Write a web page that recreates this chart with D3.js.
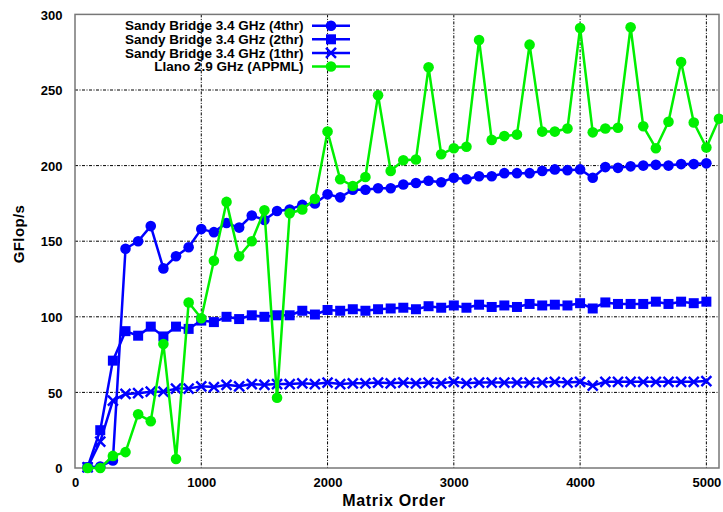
<!DOCTYPE html>
<html>
<head>
<meta charset="utf-8">
<script src="https://cdn.jsdelivr.net/npm/d3@7"></script>
<style>
  html, body { margin: 0; padding: 0; background: #fff; }
  svg { display: block; }
  text { font-family: "Liberation Sans", Arial, sans-serif; font-weight: bold; fill: #000; }
</style>
</head>
<body>
<svg id="chart" width="723" height="512"></svg>
<script>
// ---- data ----
const ordersSB = [100,200,300,400,500,600,700,800,900,1000,
  1100,1200,1300,1400,1500,1600,1700,1800,1900,2000,
  2100,2200,2300,2400,2500,2600,2700,2800,2900,3000,
  3100,3200,3300,3400,3500,3600,3700,3800,3900,4000,
  4100,4200,4300,4400,4500,4600,4700,4800,4900,5000];
const ordersLlano = [100,200,300,400,500,600,700,800,900,1000,
  1100,1200,1300,1400,1500,1600,1700,1800,1900,2000,
  2100,2200,2300,2400,2500,2600,2700,2800,2900,3000,
  3100,3200,3300,3400,3500,3600,3700,3800,3900,4000,
  4100,4200,4300,4400,4500,4600,4700,4800,4900,5000,5100];

const sb4thr = [0.5,1,5,145,150,160,132,140,146,158,
  156,162,159,167,164,170,171,174,175,181,
  179,184,184,185,185,187.5,188.5,190,189,192,
  191,193,193,195,195,195,196.5,197.5,197,197.5,
  192,199,198.5,199.5,200,200.5,200,201,201,201.5];
const sb2thr = [0.5,25,71,90.5,87.5,93.5,87,93.5,92,97.5,
  96.5,100,98.5,101,100,101,101,104,101.5,104.5,
  104,105,104,105,105.5,106,105,107,106,107.5,
  106,108,106.5,107.5,106.5,108.5,107.5,108,107.5,109,
  105.5,109.5,108.5,108.5,108.5,110,108.5,110,109,110];
const sb1thr = [0.5,17.5,44.5,49,49.5,50.5,50.5,52.5,52.5,54,
  53.5,55,54,55.5,55,55.5,55.5,56,55.5,56.5,
  55.5,56,56,56.5,56,56.5,56,56.5,56,57,
  56,56.5,56.5,56.5,56.5,56.5,56.5,57,56.5,57,
  54.5,57,57,57,57,57,57,57,57,57.5];
const llano = [0,0,8,10.5,35.5,31,82,6,109.5,99,
  137,176,140,150,170.5,46.5,168.5,171,178,222.5,
  191,186.5,192.5,246.5,196.5,203.5,204,265,207.5,211.5,
  212.5,283,217,219.5,220.5,280,222.5,222.5,224.5,291,
  222,224.5,225,291.5,226,211.5,229,268.5,228.5,212,231];

const xTicks = [0,1000,2000,3000,4000,5000];
const yTicks = [0,50,100,150,200,250,300];
const seriesNames = ["Sandy Bridge 3.4 GHz (4thr)","Sandy Bridge 3.4 GHz (2thr)","Sandy Bridge 3.4 GHz (1thr)","Llano 2.9 GHz (APPML)"];

// ---- layout ----
const svg = d3.select("#chart");
const L = 75, R = 719, T = 14.4, B = 468;
const x = d3.scaleLinear().domain([0, 5100]).range([L, R]);
const y = d3.scaleLinear().domain([0, 300]).range([B, T]);

const BLUE = "#0000ff", GREEN = "#00f000";

// grid
const grid = svg.append("g");
grid.selectAll("line.h").data(yTicks.filter(v => v > 0 && v < 300)).join("line")
  .attr("x1", L).attr("x2", R).attr("y1", d => y(d)).attr("y2", d => y(d))
  .attr("stroke", "#000").attr("stroke-width", 1).attr("stroke-dasharray", "3,1.5,1,1.5");
grid.selectAll("line.v").data(xTicks.filter(v => v > 0)).join("line")
  .attr("y1", T).attr("y2", B).attr("x1", d => x(d)).attr("x2", d => x(d))
  .attr("stroke", "#000").attr("stroke-width", 1).attr("stroke-dasharray", "3,1.5,1,1.5");

// axes via d3
const tickFont = g => g.selectAll("text").style("font-size", "13px")
  .style("font-family", '"Liberation Sans", Arial, sans-serif').style("font-weight", "bold").attr("fill", "#000");
const xAxis = d3.axisBottom(x).tickValues(xTicks).tickFormat(d3.format("d")).tickSize(0).tickPadding(0);
const gx = svg.append("g").attr("transform", `translate(0,${B})`).call(xAxis);
gx.select(".domain").remove();
gx.selectAll("text").attr("y", 19).attr("dy", 0);
tickFont(gx);

const yAxis = d3.axisLeft(y).tickValues(yTicks).tickFormat(d3.format("d")).tickSize(0).tickPadding(0);
const gy = svg.append("g").attr("transform", `translate(${L},0)`).call(yAxis);
gy.select(".domain").remove();
gy.selectAll("text").attr("x", -12.5).attr("dy", "0.36em");
tickFont(gy);

// border
svg.append("rect").attr("x", L).attr("y", T).attr("width", R - L).attr("height", B - T)
  .attr("fill", "none").attr("stroke", "#777").attr("stroke-width", 1.5);

// axis titles
svg.append("text").attr("x", 394).attr("y", 506).attr("text-anchor", "middle")
  .style("font-size", "16px").style("letter-spacing", "0.7px").text("Matrix Order");
svg.append("text").attr("transform", "translate(24,234) rotate(-90)").attr("text-anchor", "middle")
  .style("font-size", "15px").style("letter-spacing", "0.4px").text("GFlop/s");

// series
const series = [
  {name: seriesNames[0], xs: ordersSB, ys: sb4thr, color: BLUE, marker: "circle"},
  {name: seriesNames[1], xs: ordersSB, ys: sb2thr, color: BLUE, marker: "square"},
  {name: seriesNames[2], xs: ordersSB, ys: sb1thr, color: BLUE, marker: "cross"},
  {name: seriesNames[3], xs: ordersLlano, ys: llano, color: GREEN, marker: "circle"}
];

function drawMarker(g, type, cx, cy, color) {
  if (type === "circle") {
    g.append("circle").attr("cx", cx).attr("cy", cy).attr("r", 5.3).attr("fill", color);
  } else if (type === "square") {
    g.append("rect").attr("x", cx - 5).attr("y", cy - 5).attr("width", 10).attr("height", 10).attr("fill", color);
  } else {
    const s = 5;
    g.append("path").attr("d", `M${cx-s},${cy-s}L${cx+s},${cy+s}M${cx-s},${cy+s}L${cx+s},${cy-s}`)
      .attr("stroke", color).attr("stroke-width", 2.4).attr("fill", "none");
  }
}

const line = d3.line().x(d => x(d[0])).y(d => y(d[1]));
series.forEach(s => {
  const pts = s.xs.map((v, i) => [v, s.ys[i]]);
  const g = svg.append("g");
  g.append("path").datum(pts).attr("d", line).attr("fill", "none")
    .attr("stroke", s.color).attr("stroke-width", 2.5).attr("stroke-linejoin", "round");
  pts.forEach(p => drawMarker(g, s.marker, x(p[0]), y(p[1]), s.color));
});

// legend
const lg = svg.append("g");
series.forEach((s, i) => {
  const cy = 25.7 + i * 13.6;
  lg.append("text").attr("x", 303.5).attr("y", cy + 4.6).attr("text-anchor", "end")
    .style("font-size", "13.5px").text(s.name);
  lg.append("line").attr("x1", 312).attr("x2", 350).attr("y1", cy).attr("y2", cy)
    .attr("stroke", s.color).attr("stroke-width", 2.5);
  drawMarker(lg, s.marker, 331, cy, s.color);
});
</script>
</body>
</html>
